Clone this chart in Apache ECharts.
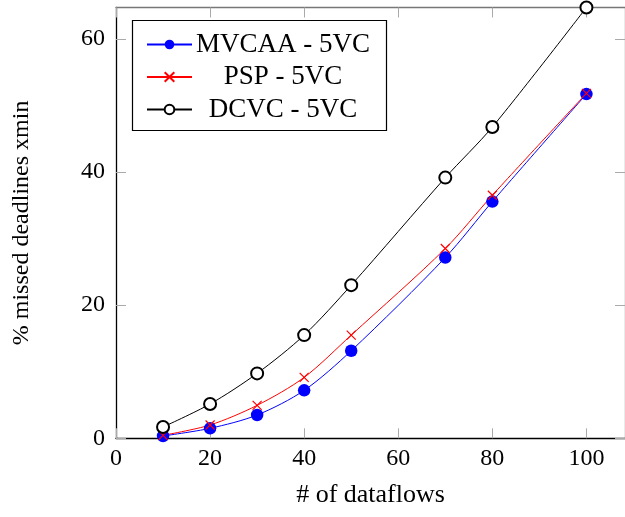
<!DOCTYPE html>
<html><head><meta charset="utf-8">
<script src="https://cdn.jsdelivr.net/npm/echarts@6/dist/echarts.min.js"></script>
<style>html,body{margin:0;padding:0;background:#fff}#c{width:625px;height:517px}</style>
</head><body><div id="c"></div>
<script>
const xValues = [10, 20, 30, 40, 50, 70, 80, 100];
const mvcaa = [0.35, 1.5, 3.5, 7.2, 13.15, 27.15, 35.55, 51.7];
const psp = [0.45, 2.0, 4.95, 9.15, 15.5, 28.5, 36.5, 51.8];
const dcvc = [1.7, 5.15, 9.75, 15.5, 23.0, 39.15, 46.75, 64.7];
const seriesNames = ['MVCAA - 5VC', 'PSP - 5VC', 'DCVC - 5VC'];
const xTicks = [0, 20, 40, 60, 80, 100];
const yTicks = [0, 20, 40, 60];

const FONT = 'Liberation Serif';
const pair = arr => xValues.map((x, i) => [x, arr[i]]);
const chart = echarts.init(document.getElementById('c'));
const tickStyle = { inside: true, length: 10, lineStyle: { color: '#aaa', width: 1 } };
const baseX = {
  type: 'value', min: 0, max: 108.2, interval: 20,
  splitLine: { show: false },
  axisTick: Object.assign({ customValues: xTicks }, tickStyle)
};
const baseY = {
  type: 'value', min: 0, max: 64.7, interval: 20,
  splitLine: { show: false },
  axisTick: Object.assign({ customValues: yTicks }, tickStyle)
};
chart.setOption({
  animation: false,
  textStyle: { fontFamily: FONT },
  grid: { left: 116, top: 7.5, right: -1, bottom: 78.7, containLabel: false },
  xAxis: [
    Object.assign({}, baseX, {
      position: 'bottom',
      axisLine: { onZero: false, lineStyle: { color: '#000', width: 1.3 } },
      axisLabel: { customValues: xTicks, margin: 8, color: '#000', fontSize: 24, fontFamily: FONT },
      name: '# of dataflows', nameLocation: 'middle', nameGap: 44,
      nameTextStyle: { fontSize: 26, color: '#000', fontFamily: FONT }
    }),
    Object.assign({}, baseX, {
      position: 'top',
      axisLine: { onZero: false, lineStyle: { color: '#777', width: 1.3 } },
      axisLabel: { show: false }
    })
  ],
  yAxis: [
    Object.assign({}, baseY, {
      position: 'left',
      axisLine: { onZero: false, lineStyle: { color: '#000', width: 1.3 } },
      axisLabel: { customValues: yTicks, margin: 11, color: '#000', fontSize: 24, fontFamily: FONT },
      name: '% missed deadlines xmin', nameLocation: 'middle', nameGap: 82,
      nameTextStyle: { fontSize: 24, color: '#000', fontFamily: FONT }
    }),
    Object.assign({}, baseY, {
      position: 'right',
      axisLine: { onZero: false, lineStyle: { color: '#777', width: 1.3 } },
      axisLabel: { show: false }
    })
  ],
  graphic: [{
    type: 'rect', z: 3,
    shape: { x: 132.5, y: 20.5, width: 254, height: 110 },
    style: { fill: '#fff', stroke: '#000', lineWidth: 1.2 }
  }],
  legend: {
    z: 10,
    left: 141, top: 26, orient: 'vertical',
    itemWidth: 45, itemHeight: 12, itemGap: 5.5,
    formatter: n => '{a|' + n + '}',
    textStyle: {
      color: '#000', fontSize: 27, lineHeight: 25, fontFamily: FONT,
      rich: { a: { width: 172, align: 'center', fontSize: 27, lineHeight: 25, fontFamily: FONT, color: '#000' } }
    },
    data: seriesNames
  },
  series: [
    {
      name: seriesNames[0], type: 'line', smooth: 0.3, data: pair(mvcaa),
      symbol: 'circle', symbolSize: 12.5,
      lineStyle: { color: '#0000ff', width: 1 },
      itemStyle: { color: '#0000ff' }
    },
    {
      name: seriesNames[1], type: 'line', smooth: 0.3, data: pair(psp),
      symbol: 'path://M0,0 L10,10 M10,0 L0,10', symbolSize: 9,
      lineStyle: { color: '#ff0000', width: 1 },
      itemStyle: { color: '#ff0000', borderColor: '#ff0000', borderWidth: 1.2 }
    },
    {
      name: seriesNames[2], type: 'line', smooth: 0.3, data: pair(dcvc),
      symbol: 'emptyCircle', symbolSize: 12,
      lineStyle: { color: '#000', width: 1 },
      itemStyle: { color: '#000', borderColor: '#000', borderWidth: 1 }
    }
  ]
});
</script></body></html>
